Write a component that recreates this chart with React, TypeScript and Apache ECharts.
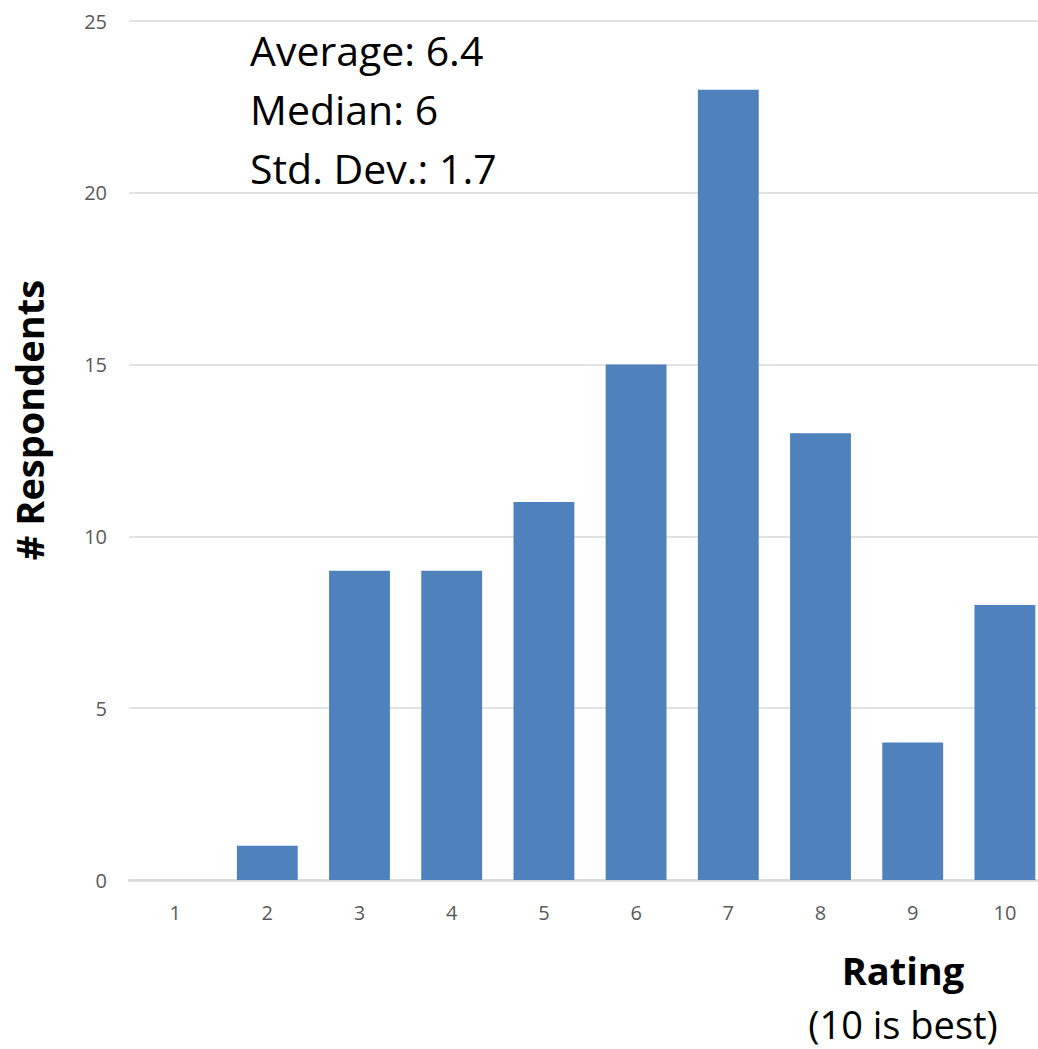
import React, { useEffect, useRef } from "react";
import * as echarts from "echarts";

const categories = ["1", "2", "3", "4", "5", "6", "7", "8", "9", "10"];
const respondents = [0, 1, 9, 9, 11, 15, 23, 13, 4, 8];
const statsLines = ["Average: 6.4", "Median: 6", "Std. Dev.: 1.7"];
const yTitle = "# Respondents";
const xTitle = "Rating";
const xSubtitle = "(10 is best)";

const FONT = "'Open Sans', 'Noto Sans', sans-serif";

export default function App() {
  const ref = useRef<HTMLDivElement>(null);
  useEffect(() => {
    document.body.style.margin = "0";
    document.body.style.overflow = "hidden";
    const chart = echarts.init(ref.current!, undefined, { renderer: "svg" });
    chart.setOption({
      animation: false,
      textStyle: { fontFamily: FONT },
      grid: { left: 129, right: 0, top: 21, bottom: 169, containLabel: false },
      xAxis: {
        type: "category",
        data: categories,
        axisLine: { lineStyle: { color: "#d9d9d9", width: 2.5 } },
        axisTick: { show: false },
        axisLabel: { color: "#595959", fontSize: 20, margin: 22, fontFamily: FONT },
      },
      yAxis: {
        type: "value",
        min: 0,
        max: 25,
        interval: 5,
        axisLine: { show: false },
        axisTick: { show: false },
        axisLabel: { color: "#595959", fontSize: 20, margin: 22, fontFamily: FONT },
        splitLine: { lineStyle: { color: "#d9d9d9", width: 1.5 } },
      },
      series: [
        {
          type: "bar",
          data: respondents,
          barWidth: "66%",
          itemStyle: { color: "#4F81BD" },
        },
      ],
      graphic: [
        ...statsLines.map((t, i) => ({
          type: "text",
          left: 250,
          top: 29 + i * 59,
          style: { text: t, fontSize: 41, fontFamily: FONT, fill: "#000" },
        })),
        {
          type: "text",
          x: 29,
          y: 420,
          rotation: Math.PI / 2,
          style: {
            text: yTitle,
            fontSize: 38,
            fontWeight: "bold",
            fontFamily: FONT,
            fill: "#000",
            align: "center",
            verticalAlign: "middle",
          },
        },
        {
          type: "text",
          x: 903,
          y: 970,
          style: {
            text: xTitle,
            fontSize: 38,
            fontWeight: "bold",
            fontFamily: FONT,
            fill: "#000",
            align: "center",
            verticalAlign: "middle",
          },
        },
        {
          type: "text",
          x: 903,
          y: 1024,
          style: {
            text: xSubtitle,
            fontSize: 38,
            fontFamily: FONT,
            fill: "#000",
            align: "center",
            verticalAlign: "middle",
          },
        },
      ],
    });
    return () => chart.dispose();
  }, []);
  return <div ref={ref} style={{ width: 1051, height: 1049 }} />;
}
